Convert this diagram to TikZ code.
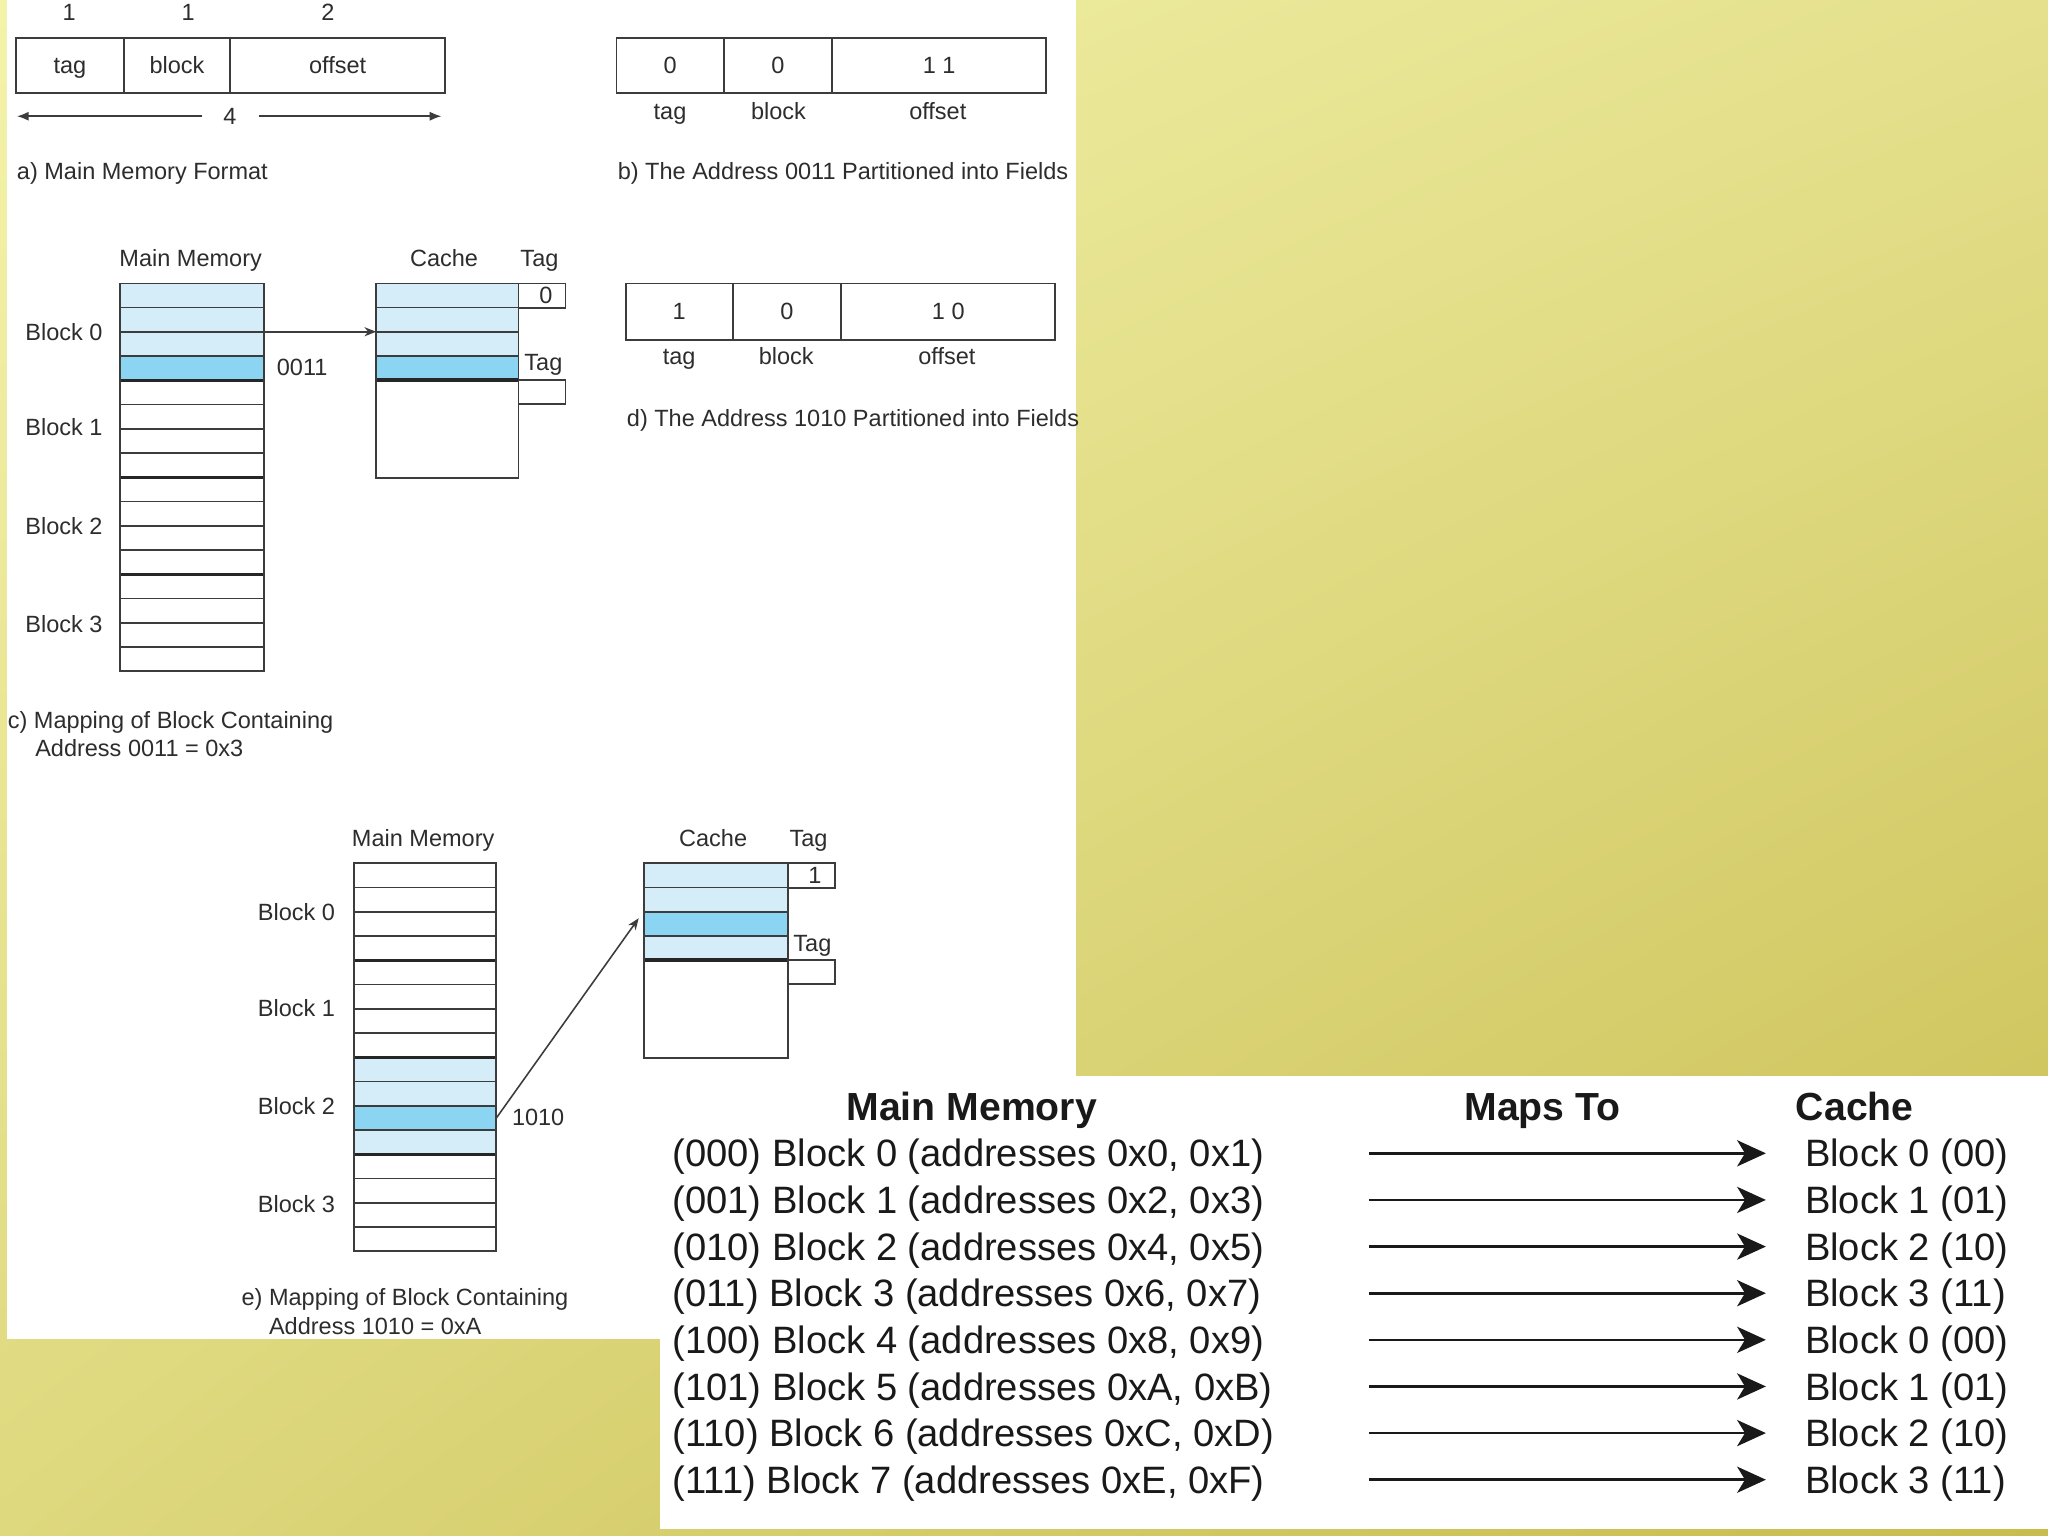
\documentclass[tikz,border=0pt]{standalone}
\usepackage{fontspec}
\setmainfont{Liberation Sans}
\usetikzlibrary{arrows.meta,calc,shadings}
\definecolor{lb}{RGB}{212,237,249}
\definecolor{db}{RGB}{140,213,242}
\definecolor{lc}{RGB}{60,60,60}
\definecolor{txt}{RGB}{45,45,45}
\definecolor{tblc}{RGB}{25,25,25}
\definecolor{ylA}{RGB}{243,243,170}
\definecolor{ylB}{RGB}{228,224,140}
\definecolor{ylC}{RGB}{222,216,126}
\definecolor{ylD}{RGB}{200,188,78}
\tikzset{
  every node/.style={inner sep=0pt, outer sep=0pt},
  lbl/.style={font=\fontsize{9}{10.8}\selectfont, text=txt, text height=6.4pt, text depth=0pt},
  captext/.style={lbl, anchor=west},
  fieldbox/.style={draw=lc, line width=0.7pt, minimum height=21pt, anchor=north west, lbl},
  cellbox/.style={draw=lc, line width=0.7pt, anchor=north west},
  rowline/.style={draw=lc, line width=0.55pt},
  blkline/.style={draw=black!85, line width=1.3pt},
  ptr/.style={draw=lc, line width=0.6pt, -{Stealth[length=4.5pt,width=3.5pt]}},
  dimarrow/.style={draw=lc, line width=0.6pt, -{Latex[length=4.5pt,width=3.5pt]}},
  tbl/.style={font=\fontsize{14.6}{17}\selectfont, text=tblc, anchor=west, text height=10.4pt, text depth=0pt},
  hdr/.style={font=\bfseries\fontsize{15}{18}\selectfont, text=tblc, text height=10.7pt, text depth=0pt},
  maparrow/.style={draw=tblc, line width=1pt, -{Stealth[length=11pt,width=10pt,inset=3pt]}},
}
\begin{document}
\begin{tikzpicture}[x=0.5pt,y=-0.5pt]
\useasboundingbox (0,0) rectangle (1568,1176);
% background
\shade[upper left=ylA, upper right=ylB, lower left=ylC, lower right=ylD] (0,0) rectangle (1568,1176);
\fill[white] (5,0) rectangle (824,824);
\fill[white] (5,820) rectangle (505,1025);
\fill[white] (505,824) rectangle (1568,1171);

% ---------- a) Main Memory Format
\node[lbl] (na1) at (53,9) {1};
\node[lbl] (na2) at (144,9) {1};
\node[lbl] (na3) at (251,9) {2};
\node[fieldbox, minimum width=41.5pt] (aTag) at (12,29) {tag};
\node[fieldbox, minimum width=40.5pt] (aBlk) at (95,29) {block};
\node[fieldbox, minimum width=82.5pt] (aOff) at (176,29) {offset};
\node[lbl] (n4) at (176,89) {4};
\coordinate (dimL) at (13,89);
\coordinate (dimR) at (338,89);
\draw[dimarrow] ([xshift=-8pt]n4.west) -- (dimL);
\draw[dimarrow] ([xshift=8.5pt]n4.east) -- (dimR);
\node[captext] (capA) at (13,131) {a) Main Memory Format};

% ---------- b) Address 0011
\node[fieldbox, minimum width=41pt] (bTag) at (472,29) {0};
\node[fieldbox, minimum width=41.5pt] (bBlk) at (554,29) {0};
\node[fieldbox, minimum width=82pt] (bOff) at (637,29) {1 1};
\node[lbl] (bl1) at (513,85) {tag};
\node[lbl] (bl2) at (596,85) {block};
\node[lbl] (bl3) at (718,85) {offset};
\node[captext] (capB) at (473,131) {b) The Address 0011 Partitioned into Fields};

% ---------- d) Address 1010
\node[fieldbox, minimum width=41pt, minimum height=21.5pt] (dTag) at (479,217) {1};
\node[fieldbox, minimum width=41.5pt, minimum height=21.5pt] (dBlk) at (561,217) {0};
\node[fieldbox, minimum width=82pt, minimum height=21.5pt] (dOff) at (644,217) {1 0};
\node[lbl] (dl1) at (520,273) {tag};
\node[lbl] (dl2) at (602,273) {block};
\node[lbl] (dl3) at (725,273) {offset};
\node[captext] (capD) at (480,320) {d) The Address 1010 Partitioned into Fields};

% ---------- c) mapping of 0011
\node[lbl] (cMMl) at (146,198) {Main Memory};
\node[lbl] (cCl) at (340,198) {Cache};
\node[lbl] (cTl) at (413,198) {Tag};
\fill[lb] (92,217) rectangle (202,291);
\fill[db] (92,272.4) rectangle (202,291);
\foreach \k in {1,2,3,5,6,7,9,10,11,13,14,15}
  \draw[rowline] (92,{217+\k*18.5625}) -- (202,{217+\k*18.5625});
\foreach \k in {4,8,12}
  \draw[blkline] (92,{217+\k*18.5625}) -- (202,{217+\k*18.5625});
\node[cellbox, minimum width=55pt, minimum height=148.5pt] (memC) at (92,217) {};
\node[lbl] (cB0) at (49,254) {Block 0};
\node[lbl] (cB1) at (49,327) {Block 1};
\node[lbl] (cB2) at (49,403) {Block 2};
\node[lbl] (cB3) at (49,478) {Block 3};
\node[lbl, anchor=west] (cAddr) at (212,281) {0011};
\fill[lb] (288,217) rectangle (397,291);
\fill[db] (288,272.4) rectangle (397,291);
\foreach \k in {1,2,3}
  \draw[rowline] (288,{217+\k*18.5625}) -- (397,{217+\k*18.5625});
\draw[blkline] (288,291) -- (397,291);
\node[cellbox, minimum width=54.5pt, minimum height=74.5pt] (cacheC) at (288,217) {};
\node[cellbox, lbl, minimum width=18pt, minimum height=9.3pt] (tagC1) at (397,217) {\hspace*{3pt}0};
\node[lbl] (cT2l) at (416,277) {Tag};
\node[cellbox, minimum width=18pt, minimum height=9.3pt] (tagC2) at (397,291) {};
\coordinate (cSrc) at (202,254);
\coordinate (cDst) at (288,254);
\draw[ptr] (cSrc) -- (cDst);
\node[captext] (capC1) at (6,551) {c) Mapping of Block Containing};
\node[captext] (capC2) at (27,573) {Address 0011 = 0x3};

% ---------- e) mapping of 1010
\node[lbl] (eMMl) at (324,642) {Main Memory};
\node[lbl] (eCl) at (546,642) {Cache};
\node[lbl] (eTl) at (619,642) {Tag};
\fill[lb] (271,{661+8*18.5625}) rectangle (380,{661+12*18.5625});
\fill[db] (271,{661+10*18.5625}) rectangle (380,{661+11*18.5625});
\foreach \k in {1,2,3,5,6,7,9,10,11,13,14,15}
  \draw[rowline] (271,{661+\k*18.5625}) -- (380,{661+\k*18.5625});
\foreach \k in {4,8,12}
  \draw[blkline] (271,{661+\k*18.5625}) -- (380,{661+\k*18.5625});
\node[cellbox, minimum width=54.5pt, minimum height=148.5pt] (memE) at (271,661) {};
\node[lbl] (eB0) at (227,698) {Block 0};
\node[lbl] (eB1) at (227,772) {Block 1};
\node[lbl] (eB2) at (227,847) {Block 2};
\node[lbl] (eB3) at (227,922) {Block 3};
\node[lbl, anchor=west] (eAddr) at (392,855) {1010};
\fill[lb] (493,661) rectangle (603,735);
\fill[db] (493,698.1) rectangle (603,716.7);
\foreach \k in {1,2,3}
  \draw[rowline] (493,{661+\k*18.5625}) -- (603,{661+\k*18.5625});
\draw[blkline] (493,735) -- (603,735);
\node[cellbox, minimum width=55pt, minimum height=74.5pt] (cacheE) at (493,661) {};
\node[cellbox, lbl, minimum width=18pt, minimum height=9.3pt] (tagE1) at (603,661) {\hspace*{3pt}1};
\node[lbl] (eT2l) at (622,722) {Tag};
\node[cellbox, minimum width=18pt, minimum height=9.3pt] (tagE2) at (603,735) {};
\coordinate (eSrc) at (380,856);
\coordinate (eDst) at (489,703);
\draw[ptr] (eSrc) -- (eDst);
\node[captext] (capE1) at (185,993) {e) Mapping of Block Containing};
\node[captext] (capE2) at (206,1015) {Address 1010 = 0xA};

% ---------- table
\node[hdr] (hMM) at (744,847) {Main Memory};
\node[hdr] (hMap) at (1181,847) {Maps To};
\node[hdr, anchor=west] (hC) at (1375,847) {Cache};
\foreach \i/\l/\r in {
  0/{(000) Block 0 (addresses 0x0, 0x1)}/{Block 0 (00)},
  1/{(001) Block 1 (addresses 0x2, 0x3)}/{Block 1 (01)},
  2/{(010) Block 2 (addresses 0x4, 0x5)}/{Block 2 (10)},
  3/{(011) Block 3 (addresses 0x6, 0x7)}/{Block 3 (11)},
  4/{(100) Block 4 (addresses 0x8, 0x9)}/{Block 0 (00)},
  5/{(101) Block 5 (addresses 0xA, 0xB)}/{Block 1 (01)},
  6/{(110) Block 6 (addresses 0xC, 0xD)}/{Block 2 (10)},
  7/{(111) Block 7 (addresses 0xE, 0xF)}/{Block 3 (11)}} {
  \node[tbl] (mm\i) at (515,{883+\i*35.7}) {\l};
  \node[tbl] (cb\i) at (1382,{883+\i*35.7}) {\r};
  \coordinate (as\i) at (1048,{883+\i*35.7});
  \draw[maparrow] (as\i) -- ([xshift=-15pt]cb\i.west);
}
\end{tikzpicture}
\end{document}
